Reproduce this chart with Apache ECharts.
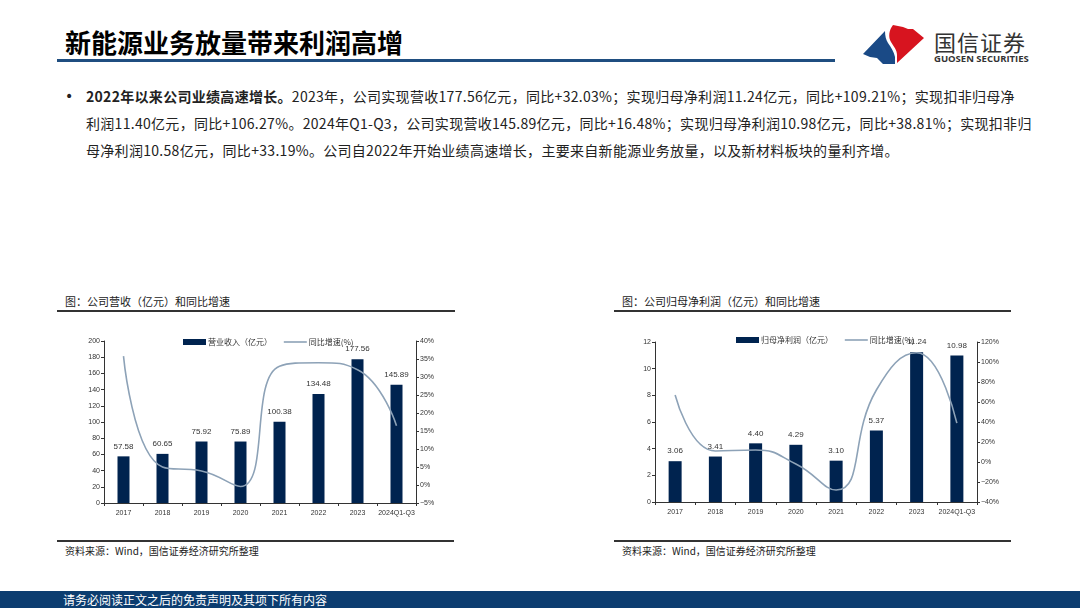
<!DOCTYPE html>
<html>
<head>
<meta charset="utf-8">
<script src="https://cdn.jsdelivr.net/npm/echarts@6/dist/echarts.min.js"></script>
<style>
  html, body { margin:0; padding:0; background:#fff; }
  body { width:1080px; height:608px; position:relative; overflow:hidden; font-family:"Noto Sans CJK SC","Noto Sans",sans-serif; }
  .abs { position:absolute; }
  #title { left:65px; top:24px; font-size:26px; font-weight:bold; color:#000; line-height:36px; white-space:nowrap; }
  #titlebar { left:57px; top:59px; width:778px; height:3px; background:#1f4e80; }
  #logoText { left:934px; top:27px; font-size:22px; color:#333; line-height:28px; letter-spacing:1px; }
  #logoEn { left:934px; top:53px; font-size:9.5px; font-weight:bold; color:#333; line-height:12px; font-family:"Open Sans","Noto Sans",sans-serif; }
  #bullet { left:65px; top:83px; font-size:14px; line-height:27px; color:#222; font-family:"DejaVu Sans",sans-serif; }
  #para { left:86px; top:83px; font-size:14px; line-height:27px; color:#222; white-space:nowrap; letter-spacing:0.3px; }
  .ctitle { font-size:11px; color:#222; line-height:14px; white-space:nowrap; }
  .cline { height:1.5px; background:#333; }
  .src { font-size:10px; color:#222; line-height:12px; white-space:nowrap; }
  #footer { left:0; top:591px; width:1080px; height:17px; background:#0c3d70; }
  #footText { left:63px; top:591px; font-size:12px; color:#fff; line-height:17px; white-space:nowrap; }
  .chart { position:absolute; width:400px; height:210px; }
</style>
</head>
<body>
<div id="title" class="abs">新能源业务放量带来利润高增</div>
<div id="titlebar" class="abs"></div>
<svg class="abs" style="left:0;top:0" width="1080" height="80">
  <path d="M863,54 L885,31 C885,36 886,40 888,43 C891,47 894,52 895,57 L895,64 L883,64 L877,58 L870,57 Z" fill="#1a4a86"/>
  <path d="M893,25 L903,27 L908,29 L913,29 L924,38 L897,63 L897,55 C897,50 894,47 891,42 C888,37 889,30 893,25 Z" fill="#d7141f"/>
</svg>
<div id="logoText" class="abs">国信证券</div>
<div id="logoEn" class="abs">GUOSEN SECURITIES</div>

<div id="bullet" class="abs">•</div>
<div id="para" class="abs"><b>2022年以来公司业绩高速增长。</b>2023年，公司实现营收177.56亿元，同比+32.03%；实现归母净利润11.24亿元，同比+109.21%；实现扣非归母净<br>利润11.40亿元，同比+106.27%。2024年Q1-Q3，公司实现营收145.89亿元，同比+16.48%；实现归母净利润10.98亿元，同比+38.81%；实现扣非归<br>母净利润10.58亿元，同比+33.19%。公司自2022年开始业绩高速增长，主要来自新能源业务放量，以及新材料板块的量利齐增。</div>

<div class="abs ctitle" style="left:65px;top:294px">图：公司营收（亿元）和同比增速</div>
<div class="abs cline" style="left:57px;top:310px;width:398px"></div>
<div class="abs ctitle" style="left:622px;top:294px">图：公司归母净利润（亿元）和同比增速</div>
<div class="abs cline" style="left:614px;top:310px;width:397px"></div>

<div id="c1" class="chart" style="left:57px;top:320px"></div>
<div id="c2" class="chart" style="left:614px;top:320px"></div>

<div class="abs cline" style="left:57px;top:540px;width:397px"></div>
<div class="abs src" style="left:65px;top:545px">资料来源：Wind，国信证券经济研究所整理</div>
<div class="abs cline" style="left:614px;top:540px;width:397px"></div>
<div class="abs src" style="left:622px;top:545px">资料来源：Wind，国信证券经济研究所整理</div>

<div id="footer" class="abs"></div>
<div id="footText" class="abs">请务必阅读正文之后的免责声明及其项下所有内容</div>

<script>
const categories = ['2017','2018','2019','2020','2021','2022','2023','2024Q1-Q3'];
const revenue = [57.58, 60.65, 75.92, 75.89, 100.38, 134.48, 177.56, 145.89];
const revenueYoY = [35.8, 5.0, 3.9, -0.4, 33.0, 33.97, 32.03, 16.48];
const netProfit = [3.06, 3.41, 4.40, 4.29, 3.10, 5.37, 11.24, 10.98];
const netProfitYoY = [67, 11, 12, -2, -28, 72, 109.21, 38.81];

const BAR = '#00234f', LINE = '#8da2b7', AX = '#333';
const FONT = '"Liberation Sans","Noto Sans CJK SC",sans-serif';

function makeOption(cfg) {
  const axisCommon = {
    axisLine: { show: true, lineStyle: { color: AX, width: 1 } },
    axisTick: { show: true, length: 3, lineStyle: { color: AX } },
    splitLine: { show: false },
    axisLabel: { fontSize: 7, color: '#333', fontFamily: FONT, margin: 4 }
  };
  return {
    animation: false,
    textStyle: { fontFamily: FONT },
    legend: {
      left: cfg.legendLeft, top: cfg.legendTop, itemGap: 11, itemWidth: 23, itemHeight: 6,
      textStyle: { fontSize: 8, color: '#333', fontFamily: '"Noto Sans CJK SC",sans-serif', padding: [0,0,0,-3] },
      data: [
        { name: cfg.barName, icon: 'rect' },
        { name: '同比增速(%)', itemStyle: { opacity: 0 }, lineStyle: { width: 1.6, color: LINE } }
      ]
    },
    grid: cfg.grid,
    xAxis: {
      type: 'category', data: categories, boundaryGap: true,
      axisLine: { lineStyle: { color: AX } },
      axisTick: { show: true, length: 3, lineStyle: { color: AX } },
      axisLabel: { fontSize: 7, color: '#333', fontFamily: FONT, margin: 7, interval: 0 }
    },
    yAxis: [
      Object.assign({ type: 'value', min: cfg.lmin, max: cfg.lmax, interval: cfg.lint }, axisCommon),
      Object.assign({ type: 'value', min: cfg.rmin, max: cfg.rmax, interval: cfg.rint, position: 'right' }, axisCommon,
        { axisLabel: { fontSize: 7, color: '#333', fontFamily: FONT, margin: 4,
          formatter: v => (v < 0 ? '\u2212' + Math.abs(v) : v) + '%' } })
    ],
    series: [
      { name: cfg.barName, type: 'bar', data: cfg.bars, barWidth: cfg.barWidth, yAxisIndex: 0,
        itemStyle: { color: BAR },
        label: { show: true, position: 'top', distance: 6, fontSize: 8, color: '#333', fontFamily: FONT,
          formatter: p => p.value.toFixed(2) } },
      { name: '同比增速(%)', type: 'line', data: cfg.line, yAxisIndex: 1, smooth: 0.5, symbol: 'none',
        lineStyle: { color: LINE, width: 1.6 }, itemStyle: { color: LINE }, z: 3 }
    ]
  };
}

const c1 = echarts.init(document.getElementById('c1'), null, { renderer: 'canvas' });
c1.setOption(makeOption({
  barName: '营业收入（亿元）', bars: revenue, line: revenueYoY,
  grid: { left: 47, top: 21, width: 312, height: 162 },
  legendLeft: 121, legendTop: 13,
  lmin: 0, lmax: 200, lint: 20, rmin: -5, rmax: 40, rint: 5, barWidth: 12
}));

const c2 = echarts.init(document.getElementById('c2'), null, { renderer: 'canvas' });
c2.setOption(makeOption({
  barName: '归母净利润（亿元）', bars: netProfit, line: netProfitYoY,
  grid: { left: 41, top: 22, width: 322, height: 160 },
  legendLeft: 117, legendTop: 11,
  lmin: 0, lmax: 12, lint: 2, rmin: -40, rmax: 120, rint: 20, barWidth: 13
}));
</script>
</body>
</html>
